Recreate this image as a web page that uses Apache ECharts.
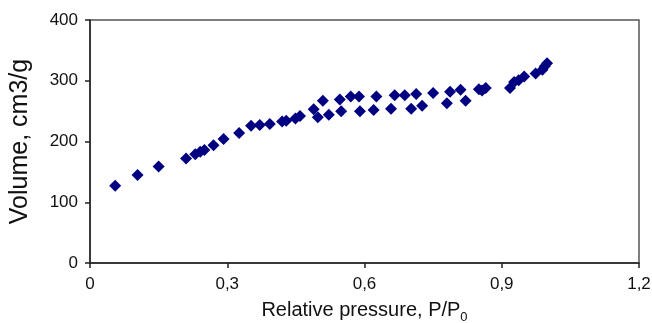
<!DOCTYPE html>
<html>
<head>
<meta charset="utf-8">
<script src="https://cdn.jsdelivr.net/npm/echarts@6/dist/echarts.min.js"></script>
<style>
html,body{margin:0;padding:0;background:#fff;}
#chart{width:652px;height:323px;}
</style>
</head>
<body>
<div id="chart"></div>
<script>
// Relative pressure P/P0 (x) and adsorbed volume cm3/g (y)
var pressure = [0.055,0.104,0.150,0.210,0.230,0.241,0.250,0.270,0.292,0.326,0.352,0.371,0.393,0.420,0.429,0.449,0.459,0.489,0.498,0.509,0.522,0.546,0.549,0.570,0.588,0.590,0.620,0.626,0.658,0.666,0.688,0.702,0.713,0.726,0.750,0.780,0.787,0.810,0.821,0.850,0.857,0.865,0.918,0.927,0.937,0.949,0.974,0.989,0.994,0.999];
var volume   = [127,145,159,172,179,183,186,194,204,214,226,227,229,233,234,238,242,253,240,267,244,269,250,274,274,250,252,274,254,276,276,254,278,259,280,263,282,285,267,286,284,288,288,298,301,307,312,318,324,329];
var xTickLabels = {0:'0', 0.3:'0,3', 0.6:'0,6', 0.9:'0,9', 1.2:'1,2'};
var yTicks = [0,100,200,300,400];
var xTitle = 'Relative pressure, P/P';
var xTitleSub = '0';
var yTitle = 'Volume, cm3/g';

var points = pressure.map(function(p,i){ return [p, volume[i]]; });
var font = 'Liberation Sans, Arial, sans-serif';
var chart = echarts.init(document.getElementById('chart'), null, {renderer:'canvas'});
chart.setOption({
  animation:false,
  backgroundColor:'#fff',
  grid:{left:90,right:13,top:20,bottom:60,containLabel:false,outerBoundsMode:'none',
    show:true,borderColor:'#555',borderWidth:1.5,backgroundColor:'transparent'},
  xAxis:{
    type:'value',min:0,max:1.2,interval:0.3,
    axisLine:{show:true,onZero:false,lineStyle:{color:'#222',width:1.5}},
    axisTick:{show:true,inside:false,length:5,lineStyle:{color:'#222',width:1.5}},
    splitLine:{show:false},
    axisLabel:{margin:13,fontFamily:font,fontSize:17,color:'#111',
      formatter:function(v){ var k=Math.round(v*10)/10; return xTickLabels[k]!==undefined?xTickLabels[k]:''; }},
    name:'{a|'+xTitle+'}{b|'+xTitleSub+'}',nameLocation:'middle',nameGap:33,
    nameTextStyle:{fontFamily:font,color:'#111',
      rich:{a:{fontFamily:font,fontSize:20,color:'#111',lineHeight:24,verticalAlign:'bottom'},
            b:{fontFamily:font,fontSize:13,color:'#111',lineHeight:24,verticalAlign:'bottom',padding:[0,0,-4,0]}}}
  },
  yAxis:{
    type:'value',min:0,max:400,interval:100,
    axisLine:{show:true,lineStyle:{color:'#222',width:1.5}},
    axisTick:{show:true,inside:false,length:5,lineStyle:{color:'#222',width:1.5}},
    splitLine:{show:false},
    axisLabel:{margin:12,fontFamily:font,fontSize:17,color:'#111',
      formatter:function(v){ return yTicks.indexOf(v)>=0?String(v):''; }},
    name:yTitle,nameLocation:'middle',nameGap:57,nameRotate:90,
    nameTextStyle:{fontFamily:font,fontSize:25,color:'#111'}
  },
  series:[{
    type:'scatter',data:points,symbol:'diamond',symbolSize:12,
    itemStyle:{color:'#000080',opacity:1}
  }]
});
</script>
</body>
</html>
